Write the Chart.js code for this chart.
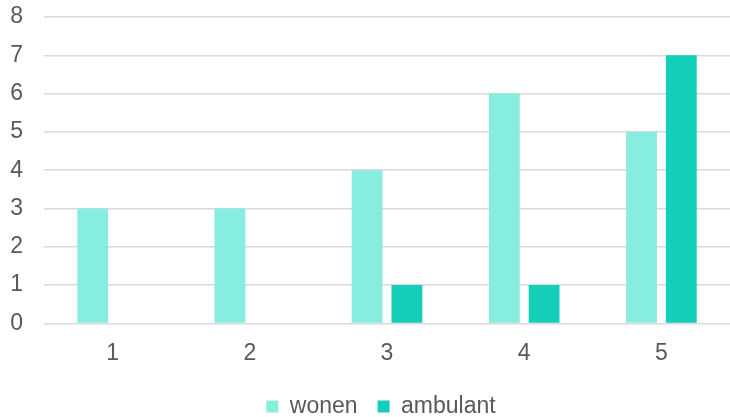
<!DOCTYPE html>
<html>
<head>
<meta charset="utf-8">
<script src="https://cdn.jsdelivr.net/npm/chart.js@4/dist/chart.umd.min.js"></script>
<style>
  html, body { margin: 0; padding: 0; background: #fff; }
  #wrap { width: 730px; height: 417px; }
</style>
</head>
<body>
<div id="wrap"><canvas id="chart" width="730" height="417"></canvas></div>
<script>
const categories = ['1', '2', '3', '4', '5'];
const wonen = [3, 3, 4, 6, 5];
const ambulant = [0, 0, 1, 1, 7];
const yMax = 8;

const textColor = '#595959';
const gridColor = '#d9d9d9';
const fontFamily = '"Liberation Sans", Arial, sans-serif';

// legend sits a little right of the canvas centre in the original
const legendShift = {
    id: 'legendShift',
    afterLayout: function(chart) {
        chart.legend.left += 16;
        chart.legend.right += 16;
    }
};

const ctx = document.getElementById('chart').getContext('2d');
new Chart(ctx, {
    type: 'bar',
    data: {
        labels: categories,
        datasets: [{
            label: 'wonen',
            data: wonen,
            backgroundColor: '#87edde',
            categoryPercentage: 0.58,
            barPercentage: 0.775
        }, {
            label: 'ambulant',
            data: ambulant,
            backgroundColor: '#13ceb9',
            categoryPercentage: 0.58,
            barPercentage: 0.775
        }]
    },
    options: {
        responsive: false,
        animation: false,
        layout: {
            padding: { top: 17, right: 0, bottom: -11, left: 0 }
        },
        scales: {
            x: {
                grid: { display: false },
                border: { display: false },
                ticks: {
                    color: textColor,
                    font: { family: fontFamily, size: 23 },
                    padding: 8
                }
            },
            y: {
                min: 0,
                max: yMax,
                afterFit: function(scale) {
                    scale.width = 44;
                    scale.paddingTop = 0;
                    scale.paddingBottom = 0;
                },
                grid: { color: gridColor, lineWidth: 1.5, drawTicks: false },
                border: { display: false },
                ticks: {
                    stepSize: 1,
                    color: textColor,
                    font: { family: fontFamily, size: 23 },
                    padding: 21
                }
            }
        },
        plugins: {
            legend: {
                position: 'bottom',
                labels: {
                    color: textColor,
                    font: { family: fontFamily, size: 23 },
                    boxWidth: 12,
                    boxHeight: 12,
                    padding: 20
                }
            },
            tooltip: { enabled: false }
        }
    },
    plugins: [legendShift]
});
</script>
</body>
</html>
